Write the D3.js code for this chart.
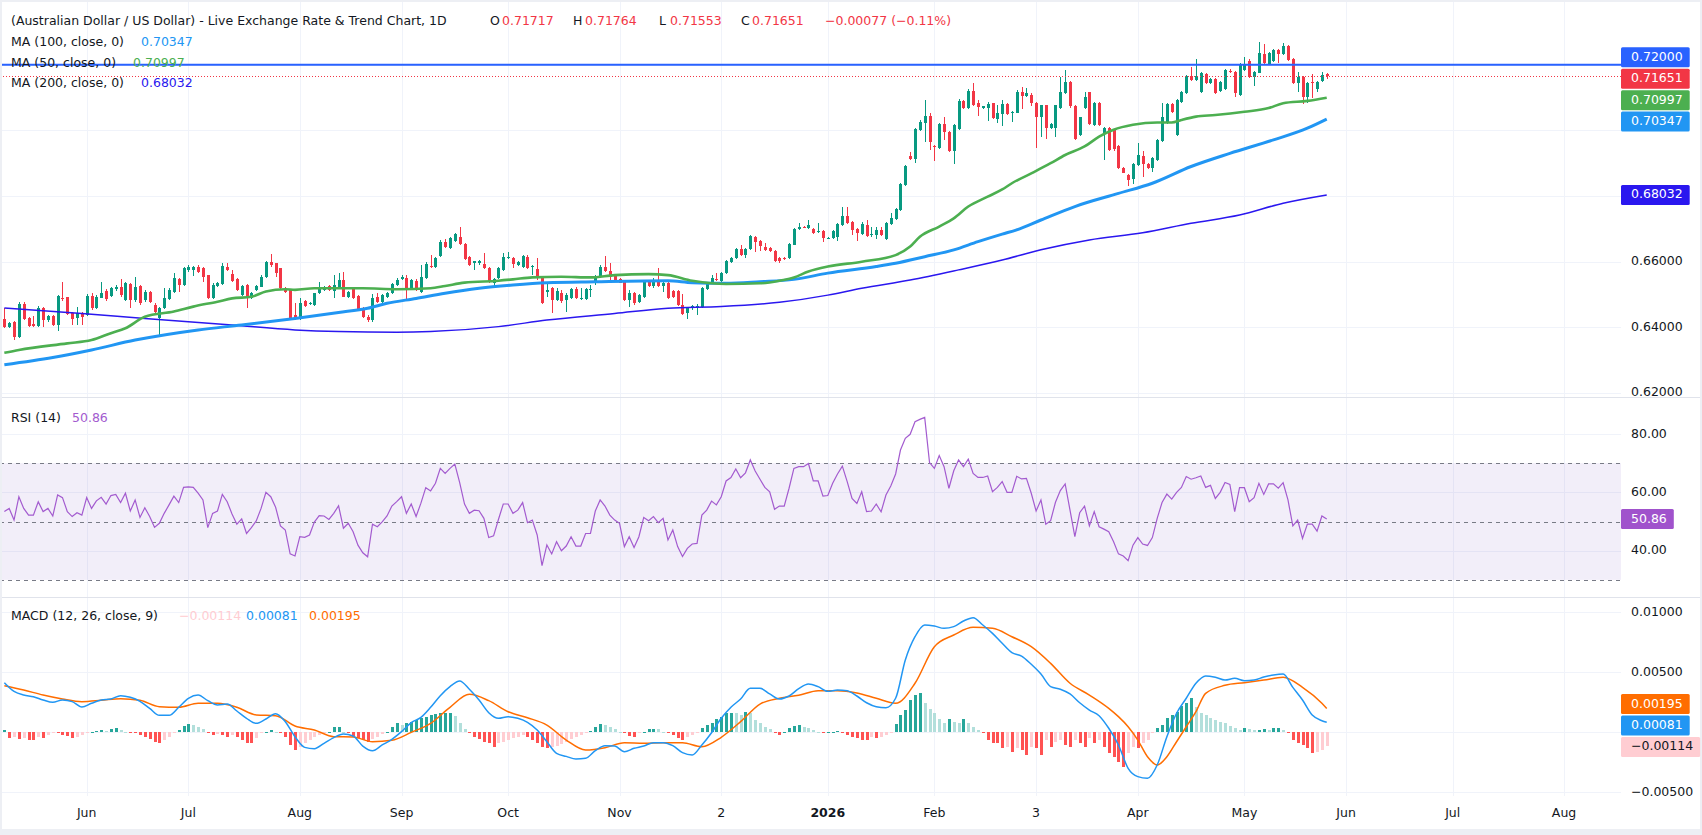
<!DOCTYPE html>
<html>
<head>
<meta charset="utf-8">
<title>AUD/USD</title>
<script src="https://cdn.jsdelivr.net/npm/d3@7/dist/d3.min.js"></script>
<style>
  html, body { margin: 0; padding: 0; background: #ffffff; overflow: hidden; }
  svg { display: block; font-family: "DejaVu Sans", Verdana, sans-serif; }
</style>
</head>
<body>
<svg id="chart" width="1702" height="835"></svg>
<script>
// ---------------- DATA ----------------
const startDate = "2025-05-08";
const axisEndDate = "2026-08-31";

const opens = [
0.6424,0.6400,0.6417,0.6371,0.6471,0.6427,0.6409,0.6404,0.6460,0.6422,
0.6434,0.6407,0.6490,0.6491,0.6444,0.6427,0.6444,0.6437,0.6496,0.6458,
0.6490,0.6511,0.6496,0.6516,0.6524,0.6483,0.6531,0.6483,0.6526,0.6483,
0.6509,0.6468,0.6427,0.6458,0.6485,0.6509,0.6546,0.6529,0.6575,0.6575,
0.6585,0.6580,0.6558,0.6490,0.6527,0.6532,0.6583,0.6563,0.6546,0.6499,
0.6529,0.6488,0.6514,0.6524,0.6552,0.6600,0.6595,0.6580,0.6519,0.6516,
0.6437,0.6430,0.6480,0.6471,0.6468,0.6504,0.6514,0.6526,0.6512,0.6519,
0.6544,0.6491,0.6522,0.6495,0.6458,0.6432,0.6422,0.6491,0.6478,0.6491,
0.6504,0.6529,0.6546,0.6549,0.6516,0.6541,0.6509,0.6549,0.6587,0.6585,
0.6617,0.6661,0.6641,0.6663,0.6676,0.6654,0.6615,0.6597,0.6597,0.6593,
0.6580,0.6534,0.6549,0.6575,0.6610,0.6610,0.6590,0.6585,0.6613,0.6585,
0.6577,0.6552,0.6509,0.6519,0.6483,0.6506,0.6483,0.6488,0.6516,0.6486,
0.6485,0.6514,0.6537,0.6554,0.6583,0.6572,0.6557,0.6546,0.6539,0.6483,
0.6504,0.6478,0.6491,0.6539,0.6527,0.6544,0.6527,0.6536,0.6512,0.6512,
0.6468,0.6442,0.6458,0.6463,0.6463,0.6516,0.6534,0.6547,0.6542,0.6565,
0.6600,0.6610,0.6638,0.6621,0.6638,0.6676,0.6663,0.6646,0.6641,0.6634,
0.6610,0.6610,0.6610,0.6652,0.6699,0.6706,0.6702,0.6700,0.6690,0.6694,
0.6670,0.6671,0.6676,0.6713,0.6739,0.6722,0.6699,0.6683,0.6712,0.6682,
0.6682,0.6697,0.6669,0.6714,0.6730,0.6758,0.6834,0.6922,0.6913,0.7001,
0.7024,0.7044,0.6953,0.6946,0.7020,0.6994,0.6938,0.7004,0.7091,0.7067,
0.7121,0.7085,0.7067,0.7067,0.7083,0.7035,0.7050,0.7081,0.7054,0.7054,
0.7118,0.7106,0.7108,0.7083,0.7040,0.7076,0.7007,0.7007,0.7068,0.7113,
0.7149,0.7075,0.6986,0.7068,0.7116,0.7017,0.7085,0.6993,0.7007,0.7000,
0.6953,0.6885,0.6864,0.6851,0.6895,0.6922,0.6898,0.6885,0.6910,0.6969,
0.7022,0.7081,0.6986,0.7088,0.7113,0.7166,0.7154,0.7116,0.7171,0.7144,
0.7156,0.7121,0.7126,0.7182,0.7177,0.7108,0.7184,0.7213,0.7162,0.7176,
0.7233,0.7203,0.7213,0.7245,0.7233,0.7256,0.7218,0.7144,0.7164,0.7103,
0.7147,0.7125,0.7152,0.71717];

const highs = [
0.6458,0.6417,0.6419,0.6478,0.6478,0.6432,0.6434,0.6465,0.6463,0.6437,
0.6436,0.6498,0.6539,0.6493,0.6447,0.6463,0.6447,0.6501,0.6503,0.6498,
0.6537,0.6516,0.6522,0.6528,0.6547,0.6537,0.6534,0.6552,0.6529,0.6514,
0.6511,0.6473,0.6463,0.6519,0.6519,0.6565,0.6549,0.6583,0.6589,0.6587,
0.6589,0.6583,0.6560,0.6534,0.6539,0.6595,0.6595,0.6575,0.6549,0.6529,
0.6531,0.6508,0.6529,0.6559,0.6603,0.6623,0.6597,0.6582,0.6522,0.6518,
0.6473,0.6488,0.6483,0.6478,0.6506,0.6539,0.6526,0.6529,0.6559,0.6565,
0.6570,0.6512,0.6524,0.6498,0.6461,0.6436,0.6501,0.6503,0.6501,0.6507,
0.6536,0.6549,0.6559,0.6559,0.6547,0.6546,0.6590,0.6600,0.6620,0.6615,
0.6666,0.6668,0.6676,0.6688,0.6707,0.6656,0.6618,0.6603,0.6605,0.6626,
0.6583,0.6549,0.6583,0.6626,0.6629,0.6615,0.6603,0.6620,0.6620,0.6590,
0.6610,0.6554,0.6534,0.6522,0.6519,0.6514,0.6504,0.6519,0.6524,0.6519,
0.6519,0.6529,0.6559,0.6590,0.6617,0.6597,0.6560,0.6549,0.6542,0.6514,
0.6507,0.6501,0.6542,0.6544,0.6549,0.6580,0.6539,0.6539,0.6514,0.6514,
0.6501,0.6463,0.6468,0.6470,0.6522,0.6537,0.6559,0.6565,0.6570,0.6605,
0.6615,0.6641,0.6651,0.6641,0.6681,0.6679,0.6666,0.6658,0.6644,0.6636,
0.6613,0.6615,0.6656,0.6702,0.6719,0.6709,0.6727,0.6702,0.6719,0.6697,
0.6674,0.6697,0.6719,0.6768,0.6768,0.6725,0.6702,0.6722,0.6727,0.6707,
0.6707,0.6705,0.6720,0.6747,0.6765,0.6841,0.6896,0.6935,0.7007,0.7032,
0.7093,0.7052,0.6956,0.7024,0.7042,0.6997,0.7020,0.7095,0.7093,0.7125,
0.7146,0.7093,0.7075,0.7088,0.7085,0.7078,0.7093,0.7085,0.7060,0.7123,
0.7132,0.7128,0.7113,0.7088,0.7078,0.7078,0.7024,0.7078,0.7164,0.7184,
0.7152,0.7078,0.7042,0.7118,0.7118,0.7088,0.7088,0.7010,0.7010,0.7003,
0.6956,0.6888,0.6867,0.6902,0.6961,0.6937,0.6900,0.6918,0.6974,0.7083,
0.7085,0.7085,0.7096,0.7121,0.7169,0.7193,0.7218,0.7177,0.7174,0.7159,
0.7159,0.7152,0.7187,0.7186,0.7180,0.7205,0.7223,0.7217,0.7182,0.7271,
0.7262,0.7238,0.7248,0.7248,0.7266,0.7259,0.7220,0.7177,0.7167,0.7149,
0.7172,0.7152,0.7179,0.71764];

const lows = [
0.6397,0.6397,0.6361,0.6366,0.6422,0.6402,0.6400,0.6402,0.6400,0.6417,
0.6404,0.6390,0.6481,0.6436,0.6407,0.6407,0.6407,0.6434,0.6453,0.6455,
0.6488,0.6481,0.6493,0.6512,0.6493,0.6481,0.6458,0.6478,0.6468,0.6478,
0.6473,0.6442,0.6376,0.6455,0.6483,0.6506,0.6509,0.6526,0.6570,0.6555,
0.6565,0.6539,0.6487,0.6487,0.6524,0.6529,0.6572,0.6539,0.6512,0.6495,
0.6458,0.6485,0.6512,0.6522,0.6549,0.6585,0.6552,0.6516,0.6506,0.6424,
0.6422,0.6422,0.6461,0.6467,0.6465,0.6501,0.6511,0.6511,0.6488,0.6516,
0.6491,0.6488,0.6485,0.6451,0.6429,0.6417,0.6417,0.6475,0.6473,0.6488,
0.6501,0.6526,0.6544,0.6485,0.6514,0.6512,0.6506,0.6546,0.6580,0.6582,
0.6615,0.6643,0.6638,0.6660,0.6651,0.6605,0.6587,0.6575,0.6590,0.6577,
0.6536,0.6519,0.6546,0.6572,0.6607,0.6580,0.6587,0.6582,0.6577,0.6560,
0.6544,0.6471,0.6493,0.6443,0.6480,0.6473,0.6448,0.6485,0.6485,0.6483,
0.6483,0.6493,0.6529,0.6551,0.6570,0.6534,0.6541,0.6534,0.6481,0.6463,
0.6468,0.6475,0.6488,0.6524,0.6519,0.6524,0.6508,0.6485,0.6488,0.6465,
0.6437,0.6424,0.6453,0.6437,0.6460,0.6514,0.6531,0.6541,0.6539,0.6562,
0.6597,0.6607,0.6618,0.6610,0.6636,0.6629,0.6631,0.6633,0.6628,0.6600,
0.6595,0.6605,0.6607,0.6650,0.6697,0.6702,0.6699,0.6683,0.6688,0.6661,
0.6668,0.6668,0.6664,0.6710,0.6715,0.6682,0.6664,0.6680,0.6676,0.6674,
0.6668,0.6679,0.6666,0.6711,0.6727,0.6755,0.6831,0.6910,0.6902,0.6999,
0.6966,0.6941,0.6908,0.6943,0.6971,0.6935,0.6898,0.7002,0.7064,0.7064,
0.7075,0.7044,0.7064,0.7030,0.7036,0.7024,0.7014,0.7047,0.7027,0.7052,
0.7066,0.7103,0.7073,0.6945,0.6981,0.6973,0.7003,0.6981,0.7065,0.7110,
0.7068,0.6971,0.6983,0.7065,0.7017,0.7014,0.7014,0.6910,0.6937,0.6937,
0.6882,0.6869,0.6831,0.6837,0.6892,0.6859,0.6882,0.6874,0.6907,0.6966,
0.7019,0.7054,0.6983,0.7085,0.7110,0.7151,0.7151,0.7113,0.7143,0.7141,
0.7110,0.7118,0.7123,0.7176,0.7101,0.7105,0.7181,0.7161,0.7134,0.7174,
0.7202,0.7200,0.7210,0.7207,0.7230,0.7212,0.7141,0.7116,0.7081,0.7085,
0.7098,0.7118,0.7149,0.71553];

const closes = [
0.6400,0.6414,0.6371,0.6471,0.6426,0.6405,0.6405,0.6460,0.6422,0.6434,
0.6407,0.6495,0.6485,0.6440,0.6424,0.6442,0.6430,0.6496,0.6458,0.6493,
0.6506,0.6485,0.6519,0.6524,0.6499,0.6534,0.6483,0.6524,0.6473,0.6509,
0.6478,0.6447,0.6458,0.6490,0.6514,0.6549,0.6529,0.6580,0.6585,0.6585,
0.6570,0.6552,0.6490,0.6529,0.6536,0.6588,0.6575,0.6542,0.6514,0.6527,
0.6488,0.6505,0.6526,0.6554,0.6600,0.6590,0.6565,0.6519,0.6509,0.6427,
0.6427,0.6473,0.6465,0.6474,0.6504,0.6524,0.6524,0.6514,0.6529,0.6544,
0.6493,0.6509,0.6488,0.6453,0.6432,0.6422,0.6488,0.6478,0.6499,0.6504,
0.6532,0.6544,0.6554,0.6516,0.6544,0.6514,0.6554,0.6593,0.6583,0.6610,
0.6661,0.6646,0.6671,0.6684,0.6654,0.6607,0.6590,0.6601,0.6601,0.6580,
0.6539,0.6546,0.6580,0.6613,0.6613,0.6593,0.6600,0.6617,0.6580,0.6588,
0.6552,0.6473,0.6514,0.6483,0.6512,0.6481,0.6499,0.6516,0.6488,0.6490,
0.6516,0.6517,0.6556,0.6585,0.6573,0.6552,0.6544,0.6536,0.6483,0.6504,
0.6473,0.6499,0.6539,0.6527,0.6539,0.6526,0.6536,0.6488,0.6491,0.6468,
0.6440,0.6458,0.6465,0.6466,0.6519,0.6534,0.6549,0.6544,0.6565,0.6603,
0.6610,0.6638,0.6621,0.6638,0.6678,0.6661,0.6648,0.6636,0.6631,0.6603,
0.6602,0.6608,0.6654,0.6700,0.6705,0.6704,0.6712,0.6687,0.6694,0.6671,
0.6672,0.6694,0.6716,0.6739,0.6719,0.6695,0.6687,0.6715,0.6679,0.6684,
0.6696,0.6682,0.6717,0.6732,0.6761,0.6838,0.6893,0.6914,0.7003,0.7027,
0.7044,0.6966,0.6948,0.7020,0.6994,0.6938,0.7017,0.7091,0.7067,0.7121,
0.7078,0.7070,0.7073,0.7081,0.7039,0.7054,0.7081,0.7050,0.7057,0.7118,
0.7106,0.7115,0.7083,0.7040,0.7076,0.7007,0.7020,0.7076,0.7116,0.7149,
0.7073,0.6974,0.7040,0.7101,0.7020,0.7085,0.7017,0.7007,0.6941,0.6942,
0.6885,0.6871,0.6849,0.6898,0.6925,0.6898,0.6885,0.6915,0.6971,0.7040,
0.7081,0.7057,0.7093,0.7116,0.7166,0.7154,0.7166,0.7174,0.7146,0.7156,
0.7113,0.7149,0.7184,0.7179,0.7113,0.7202,0.7203,0.7164,0.7179,0.7235,
0.7205,0.7235,0.7245,0.7233,0.7256,0.7215,0.7144,0.7164,0.7103,0.7146,
0.7144,0.7149,0.7169,0.71651];

// Moving averages: [bar index, value]
const ma50 = [[0,0.6322],[3,0.6331],[13,0.6351],[18,0.6361],[22,0.6382],[25,0.6397],[29,0.6432],[35,0.6448],[39,0.6463],[44,0.6478],[47,0.6488],[51,0.6493],[54,0.6509],[58,0.6516],[60,0.6514],[64,0.6519],[69,0.6519],[74,0.6519],[81,0.6516],[88,0.6519],[91,0.6526],[95,0.6536],[102,0.6542],[105,0.6546],[109,0.6552],[115,0.6554],[121,0.6552],[126,0.6559],[133,0.6562],[137,0.6559],[142,0.6542],[146,0.6534],[149,0.6532],[156,0.6534],[160,0.6542],[163,0.6552],[166,0.6570],[170,0.6585],[177,0.6600],[184,0.6620],[187,0.6646],[189,0.6676],[193,0.6707],[196,0.6732],[199,0.6768],[203,0.6798],[206,0.6820],[208,0.6839],[212,0.6869],[216,0.6900],[219,0.6925],[223,0.6951],[226,0.6981],[229,0.7002],[233,0.7017],[238,0.7024],[241,0.7024],[243,0.7032],[246,0.7042],[250,0.7047],[256,0.7057],[261,0.7068],[264,0.7083],[269,0.7090],[273,0.70997]];
const ma100 = [[0,0.6286],[10,0.6308],[18,0.6331],[27,0.6361],[40,0.6392],[49,0.6407],[60,0.6427],[69,0.6445],[75,0.6458],[79,0.6473],[85,0.6488],[91,0.6504],[98,0.6519],[105,0.6529],[112,0.6536],[122,0.6539],[137,0.6542],[142,0.6536],[149,0.6534],[156,0.6539],[163,0.6546],[170,0.6565],[180,0.6585],[184,0.6595],[190,0.6615],[196,0.6636],[201,0.6661],[206,0.6684],[209,0.6697],[214,0.6727],[221,0.6768],[230,0.6808],[237,0.6839],[245,0.6890],[253,0.6930],[262,0.6971],[269,0.7007],[273,0.70347]];
const ma200 = [[0,0.6459],[16,0.6442],[29,0.6427],[47,0.6407],[60,0.6392],[69,0.6387],[81,0.6385],[88,0.6387],[102,0.6402],[112,0.6422],[126,0.6442],[137,0.6458],[148,0.6463],[160,0.6476],[170,0.6498],[177,0.6519],[187,0.6544],[197,0.6575],[206,0.6605],[214,0.6636],[224,0.6666],[235,0.6688],[245,0.6717],[255,0.6742],[264,0.6778],[273,0.68032]];

// RSI (14), one value per bar
const rsi14 = [
53.4,54.5,50.5,58.5,54.5,52.2,52.2,56.8,53.4,54.5,
51.9,59.1,58.2,53.4,51.7,53.0,52.2,58.2,54.5,57.1,
58.3,56.0,58.9,59.3,56.5,59.7,53.6,57.4,51.4,54.7,
51.7,48.0,49.4,52.8,55.7,58.7,56.5,61.7,61.9,61.7,
59.7,57.4,47.9,52.8,53.6,59.3,56.8,52.6,49.1,50.9,
45.9,47.9,50.2,54.5,60.0,58.5,54.9,48.5,47.1,38.9,
38.2,44.8,44.6,45.4,49.8,52.0,51.9,50.7,52.8,55.4,
47.7,49.4,46.5,41.9,39.3,37.9,49.1,48.2,49.9,51.9,
55.3,56.8,58.5,52.8,56.0,51.7,56.3,61.6,60.5,63.1,
68.2,66.5,68.2,69.7,63.3,56.0,52.8,53.9,53.7,51.1,
44.5,45.1,50.7,56.0,56.0,52.8,53.9,56.5,49.6,50.5,
45.4,34.9,42.0,38.9,43.1,40.0,41.6,44.8,41.6,41.6,
45.9,45.9,53.6,57.4,55.3,52.2,50.5,49.4,41.4,44.8,
41.1,44.8,51.4,50.3,51.7,49.6,51.1,43.7,47.1,41.4,
38.0,40.8,42.3,42.5,52.2,53.9,57.0,55.7,58.5,63.9,
65.1,68.0,65.0,66.7,71.1,67.3,64.5,61.7,60.2,54.2,
55.3,55.3,61.4,68.2,68.8,68.8,69.9,63.9,63.9,58.7,
58.9,63.1,66.3,69.0,63.7,57.9,56.2,60.2,53.4,53.6,
56.0,53.3,59.1,62.2,66.3,74.5,78.5,79.9,84.2,85.0,
85.7,70.2,68.2,72.6,68.8,61.4,67.4,71.1,68.8,71.4,
66.5,65.1,65.1,65.6,60.2,61.7,63.7,60.0,60.0,65.5,
64.6,64.8,59.7,53.6,57.4,49.1,50.3,56.6,60.6,62.9,
53.9,44.8,53.0,55.3,48.5,53.4,48.2,47.4,46.5,43.1,
38.9,38.2,36.6,41.9,44.5,42.3,41.8,44.5,51.1,56.5,
59.4,57.7,60.0,61.7,65.4,64.5,65.0,65.6,61.7,62.4,
57.9,60.0,63.4,62.7,53.4,61.6,61.6,56.8,58.2,63.1,
59.3,62.9,62.9,61.4,63.3,57.4,48.5,50.5,44.2,49.1,
49.1,46.7,51.9,50.86];

// MACD (12, 26, 9): lines as [bar index, value], histogram one value per bar
const macdLine = [[0,0.00411],[2,0.00339],[4,0.00308],[6,0.00294],[8,0.00267],[10,0.00247],[12,0.00267],[14,0.00253],[16,0.00208],[18,0.00239],[20,0.00267],[22,0.00275],[24,0.00303],[26,0.00289],[28,0.00256],[30,0.00197],[32,0.00139],[34,0.00139],[36,0.00206],[38,0.00281],[40,0.00308],[42,0.00261],[44,0.00225],[46,0.00233],[48,0.00175],[50,0.00114],[52,0.00072],[54,0.00108],[56,0.00153],[58,0.00086],[60,-0.00039],[62,-0.00128],[64,-0.00139],[66,-0.00094],[68,-0.00047],[70,-0.00017],[72,-0.00033],[74,-0.00117],[76,-0.00156],[78,-0.00108],[80,-0.00061],[82,0.00003],[84,0.00078],[86,0.00122],[88,0.00206],[90,0.00303],[92,0.00378],[94,0.00425],[96,0.00356],[98,0.00267],[100,0.00161],[102,0.00114],[104,0.00128],[106,0.00114],[108,0.00081],[110,0.00017],[112,-0.00081],[114,-0.00178],[116,-0.00203],[118,-0.00225],[120,-0.00219],[122,-0.00156],[124,-0.00114],[126,-0.00117],[128,-0.00164],[130,-0.00136],[132,-0.00117],[134,-0.00089],[136,-0.00089],[138,-0.00114],[140,-0.00172],[142,-0.00192],[144,-0.00108],[146,-0.00006],[148,0.00114],[150,0.00206],[152,0.00275],[154,0.00364],[156,0.00364],[158,0.00317],[160,0.00275],[162,0.00300],[164,0.00361],[166,0.00400],[168,0.00378],[170,0.00339],[172,0.00350],[174,0.00344],[176,0.00300],[178,0.00244],[180,0.00211],[182,0.00203],[184,0.00281],[186,0.00600],[188,0.00794],[190,0.00892],[192,0.00883],[194,0.00864],[196,0.00878],[198,0.00925],[200,0.00953],[202,0.00892],[204,0.00822],[206,0.00739],[208,0.00661],[210,0.00633],[212,0.00564],[214,0.00483],[216,0.00378],[218,0.00356],[220,0.00317],[222,0.00244],[224,0.00183],[226,0.00136],[228,0.00031],[230,-0.00108],[232,-0.00303],[234,-0.00372],[236,-0.00386],[238,-0.00275],[240,-0.00039],[242,0.00156],[244,0.00281],[246,0.00406],[248,0.00467],[250,0.00456],[252,0.00433],[254,0.00447],[256,0.00428],[258,0.00433],[260,0.00458],[262,0.00475],[264,0.00483],[266,0.00372],[268,0.00267],[270,0.00142],[272,0.00094],[273,0.00081]];
const signalLine = [[0,0.00386],[4,0.00350],[8,0.00308],[12,0.00275],[16,0.00253],[20,0.00264],[24,0.00278],[28,0.00264],[32,0.00211],[36,0.00206],[40,0.00239],[44,0.00239],[48,0.00206],[52,0.00142],[56,0.00136],[60,0.00050],[64,0.00017],[68,-0.00039],[72,-0.00042],[76,-0.00081],[80,-0.00069],[84,-0.00003],[88,0.00072],[92,0.00206],[96,0.00314],[100,0.00261],[104,0.00169],[108,0.00119],[112,0.00058],[116,-0.00067],[120,-0.00150],[124,-0.00131],[128,-0.00089],[132,-0.00094],[136,-0.00089],[140,-0.00089],[144,-0.00122],[148,-0.00044],[152,0.00086],[156,0.00233],[160,0.00281],[164,0.00306],[168,0.00344],[172,0.00344],[176,0.00325],[180,0.00281],[184,0.00239],[188,0.00406],[192,0.00711],[196,0.00808],[200,0.00872],[204,0.00864],[208,0.00794],[212,0.00711],[216,0.00572],[220,0.00406],[224,0.00308],[228,0.00197],[230,0.00128],[232,0.00044],[234,-0.00067],[236,-0.00206],[238,-0.00275],[240,-0.00206],[242,-0.00081],[244,0.00044],[246,0.00169],[248,0.00322],[252,0.00389],[256,0.00411],[260,0.00433],[264,0.00456],[268,0.00372],[272,0.00239],[273,0.00195]];
const macdHist = [
0.00017,-0.00053,-0.00039,-0.00061,-0.00053,-0.00067,-0.00067,-0.00044,-0.00053,-0.00025,
-0.00011,-0.00011,-0.00025,-0.00033,-0.00047,-0.00039,-0.00025,-0.00011,0.00003,0.00011,
0.00017,0.00008,0.00022,0.00031,0.00017,0.00003,-0.00006,-0.00011,-0.00025,-0.00039,
-0.00061,-0.00081,-0.00094,-0.00067,-0.00039,-0.00011,0.00017,0.00050,0.00064,0.00058,
0.00044,0.00022,-0.00006,-0.00025,-0.00017,-0.00025,-0.00039,-0.00025,-0.00039,-0.00067,
-0.00094,-0.00094,-0.00053,-0.00011,0.00003,0.00017,0.00003,-0.00011,-0.00039,-0.00108,
-0.00150,-0.00122,-0.00094,-0.00067,-0.00039,-0.00025,-0.00006,0.00003,0.00039,0.00044,
0.00003,-0.00011,-0.00039,-0.00053,-0.00067,-0.00081,-0.00061,-0.00039,-0.00017,0.00003,
0.00044,0.00072,0.00058,0.00072,0.00086,0.00100,0.00114,0.00128,0.00142,0.00150,
0.00156,0.00156,0.00156,0.00133,0.00072,0.00022,-0.00006,-0.00039,-0.00061,-0.00081,
-0.00094,-0.00122,-0.00094,-0.00081,-0.00067,-0.00053,-0.00039,-0.00025,-0.00039,-0.00067,
-0.00094,-0.00122,-0.00136,-0.00128,-0.00117,-0.00100,-0.00081,-0.00061,-0.00044,-0.00025,
-0.00011,0.00011,0.00044,0.00067,0.00058,0.00039,0.00022,0.00003,-0.00011,-0.00033,
-0.00039,-0.00011,0.00003,0.00022,0.00025,0.00022,0.00003,-0.00011,-0.00025,-0.00053,
-0.00067,-0.00039,-0.00025,-0.00011,0.00031,0.00058,0.00078,0.00106,0.00128,0.00156,
0.00161,0.00156,0.00142,0.00169,0.00156,0.00100,0.00072,0.00044,0.00022,-0.00011,
-0.00025,0.00003,0.00031,0.00050,0.00058,0.00044,0.00031,0.00017,0.00003,-0.00011,
0.00000,0.00003,0.00011,-0.00006,-0.00025,-0.00039,-0.00053,-0.00067,-0.00067,-0.00044,
-0.00053,-0.00039,-0.00025,-0.00006,0.00067,0.00142,0.00183,0.00267,0.00308,0.00328,
0.00239,0.00189,0.00156,0.00106,0.00072,0.00106,0.00086,0.00078,0.00106,0.00072,
0.00044,0.00017,-0.00011,-0.00067,-0.00094,-0.00094,-0.00136,-0.00122,-0.00164,-0.00136,
-0.00150,-0.00192,-0.00122,-0.00136,-0.00192,-0.00067,-0.00122,-0.00081,-0.00067,-0.00108,
-0.00122,-0.00067,-0.00094,-0.00122,-0.00053,-0.00094,-0.00067,-0.00122,-0.00178,-0.00206,
-0.00247,-0.00289,-0.00178,-0.00122,-0.00136,-0.00094,-0.00067,-0.00011,0.00031,0.00058,
0.00114,0.00142,0.00169,0.00217,0.00239,0.00281,0.00211,0.00156,0.00142,0.00114,
0.00100,0.00086,0.00072,0.00050,0.00031,0.00017,0.00031,0.00022,0.00017,0.00017,
0.00025,0.00017,0.00031,0.00031,0.00017,-0.00011,-0.00067,-0.00094,-0.00108,-0.00136,
-0.00172,-0.00164,-0.00150,-0.00114];

const hLineLevel = 0.72;
const priceTicks = [0.62, 0.64, 0.66, 0.68, 0.70, 0.72];
const rsiTicks = [40, 60, 80];
const rsiBands = [70, 50, 30];
const macdTicks = [-0.005, 0, 0.005, 0.01];
const tickDates = ["2025-06-02","2025-07-01","2025-08-01","2025-09-01","2025-10-01","2025-11-03","2025-12-02","2026-01-01","2026-02-02","2026-03-03","2026-04-01","2026-05-01","2026-06-01","2026-07-01","2026-08-03"];
const tickLabels = ["Jun","Jul","Aug","Sep","Oct","Nov","2","2026","Feb","3","Apr","May","Jun","Jul","Aug"];
const titleText = "(Australian Dollar / US Dollar) - Live Exchange Rate & Trend Chart, 1D";
const ohlcLabels = ["O","H","L","C"];
const ohlcValues = ["0.71717","0.71764","0.71553","0.71651"];
const changeText = "\u22120.00077 (\u22120.11%)";

// ---------------- LAYOUT ----------------
const W = 1702, H = 835, plotR = 1621, axisR = 1700;
const pMain = [2, 397], pRsi = [398, 597], pMacd = [598, 796], tAxis = [796, 829];
const C = {
  up: "#089981", down: "#F23645", grid: "#F0F3FA", sep: "#E0E3EB", text: "#131722",
  ma50: "#4CAF50", ma100: "#2196F3", ma200: "#2A17EF", hline: "#2962FF",
  rsi: "#A35BCF", macd: "#2196F3", signal: "#FF6D00"
};
const FS = 12.5;

function tradingDays(s, e) {
  const out = [];
  let d = new Date(s + "T00:00:00Z");
  const end = new Date(e + "T00:00:00Z");
  while (d <= end) {
    const wd = d.getUTCDay();
    if (wd !== 0 && wd !== 6) out.push(d.toISOString().slice(0, 10));
    d = new Date(d.getTime() + 86400000);
  }
  return out;
}
const days = tradingDays(startDate, axisEndDate);
const idxOf = ds => days.indexOf(ds);

const x = d3.scaleLinear().domain([-0.898, 333.75]).range([0, plotR]);
const yP = d3.scaleLinear().domain([0.62, 0.72]).range([392.9, 64.8]);
const yR = d3.scaleLinear().domain([40, 80]).range([550.7, 434]);
const yM = d3.scaleLinear().domain([-0.005, 0.01]).range([792, 612]);

const svg = d3.select("#chart");
svg.append("rect").attr("width", W).attr("height", H).attr("fill", "#EDEFF4");
svg.append("rect").attr("x", 2).attr("y", 2).attr("width", axisR - 2).attr("height", tAxis[1] - 2).attr("fill", "#ffffff");

const defs = svg.append("defs");
function clip(id, x0, y0, x1, y1) {
  defs.append("clipPath").attr("id", id).append("rect")
    .attr("x", x0).attr("y", y0).attr("width", x1 - x0).attr("height", y1 - y0);
}
clip("cMain", 2, pMain[0], plotR, pMain[1]);
clip("cRsi", 2, pRsi[0], plotR, pRsi[1]);
clip("cMacd", 2, pMacd[0], plotR, pMacd[1]);
clip("aMain", plotR, pMain[0], axisR, pMain[1]);
clip("aRsi", plotR, pRsi[0], axisR, pRsi[1]);
clip("aMacd", plotR, pMacd[0], axisR, pMacd[1]);

const tickIdx = tickDates.map(idxOf);

// vertical grid
[pMain, pRsi, pMacd].forEach(p => {
  svg.append("g").selectAll("line").data(tickIdx).join("line")
    .attr("x1", d => Math.round(x(d)) + 0.5).attr("x2", d => Math.round(x(d)) + 0.5)
    .attr("y1", p[0]).attr("y2", p[1]).attr("stroke", C.grid).attr("stroke-width", 1);
});
function hGrid(ticks, scale, clipId) {
  svg.append("g").attr("clip-path", `url(#${clipId})`).selectAll("line").data(ticks).join("line")
    .attr("x1", 0).attr("x2", plotR)
    .attr("y1", d => Math.round(scale(d)) + 0.5).attr("y2", d => Math.round(scale(d)) + 0.5)
    .attr("stroke", C.grid).attr("stroke-width", 1);
}
hGrid(priceTicks, yP, "cMain");
hGrid(rsiTicks, yR, "cRsi");
hGrid(macdTicks, yM, "cMacd");

[pMain[1] + 0.5, pRsi[1] + 0.5].forEach(yy => {
  svg.append("line").attr("x1", 2).attr("x2", axisR).attr("y1", yy).attr("y2", yy)
    .attr("stroke", C.sep).attr("stroke-width", 1);
});

// ---------------- MAIN PANE ----------------
const gMain = svg.append("g").attr("clip-path", "url(#cMain)");
const candles = closes.map((c, i) => ({ i, o: opens[i], h: highs[i], l: lows[i], c }));
const gC = gMain.append("g").attr("shape-rendering", "crispEdges");
gC.selectAll("rect.w").data(candles).join("rect").attr("class", "w")
  .attr("x", d => Math.round(x(d.i)))
  .attr("width", 1)
  .attr("y", d => yP(d.h))
  .attr("height", d => Math.max(1, yP(d.l) - yP(d.h)))
  .attr("fill", d => d.c >= d.o ? C.up : C.down);
gC.selectAll("rect.b").data(candles).join("rect").attr("class", "b")
  .attr("x", d => Math.round(x(d.i)) - 1)
  .attr("width", 3)
  .attr("y", d => yP(Math.max(d.o, d.c)))
  .attr("height", d => Math.max(1, Math.abs(yP(d.o) - yP(d.c))))
  .attr("fill", d => d.c >= d.o ? C.up : C.down);

const maLine = d3.line().x(d => x(d[0])).y(d => yP(d[1])).curve(d3.curveMonotoneX);
gMain.append("path").attr("d", maLine(ma200)).attr("fill", "none").attr("stroke", C.ma200).attr("stroke-width", 1.5);
gMain.append("path").attr("d", maLine(ma100)).attr("fill", "none").attr("stroke", C.ma100).attr("stroke-width", 3).attr("stroke-linejoin", "round");
gMain.append("path").attr("d", maLine(ma50)).attr("fill", "none").attr("stroke", C.ma50).attr("stroke-width", 2.6).attr("stroke-linejoin", "round");

const lastClose = closes[closes.length - 1];
gMain.append("line").attr("x1", 0).attr("x2", plotR)
  .attr("y1", Math.round(yP(lastClose)) + 0.5).attr("y2", Math.round(yP(lastClose)) + 0.5)
  .attr("stroke", C.down).attr("stroke-width", 1).attr("stroke-dasharray", "1,2");
gMain.append("line").attr("x1", 0).attr("x2", plotR)
  .attr("y1", yP(hLineLevel)).attr("y2", yP(hLineLevel))
  .attr("stroke", C.hline).attr("stroke-width", 2);

// ---------------- RSI PANE ----------------
const gR = svg.append("g").attr("clip-path", "url(#cRsi)");
gR.append("rect").attr("x", 0).attr("width", plotR)
  .attr("y", yR(rsiBands[0])).attr("height", yR(rsiBands[2]) - yR(rsiBands[0]))
  .attr("fill", "rgba(126,87,194,0.1)");
gR.selectAll("line.band").data(rsiBands).join("line").attr("class", "band")
  .attr("x1", 0).attr("x2", plotR)
  .attr("y1", d => Math.round(yR(d)) + 0.5).attr("y2", d => Math.round(yR(d)) + 0.5)
  .attr("stroke", "#787B86").attr("stroke-width", 1).attr("stroke-dasharray", "4,4");
gR.append("path")
  .attr("d", d3.line().x((d, i) => x(i)).y(d => yR(d))(rsi14))
  .attr("fill", "none").attr("stroke", C.rsi).attr("stroke-width", 1.2);

// ---------------- MACD PANE ----------------
const gM = svg.append("g").attr("clip-path", "url(#cMacd)");
function histColor(i) {
  const v = macdHist[i], p = i > 0 ? macdHist[i - 1] : v;
  if (v >= 0) return v >= p ? "#26A69A" : "#B2DFDB";
  return v > p ? "#FFCDD2" : "#FF5252";
}
gM.append("g").attr("shape-rendering", "crispEdges").selectAll("rect").data(macdHist).join("rect")
  .attr("x", (d, i) => Math.round(x(i)) - 1).attr("width", 3)
  .attr("y", d => Math.min(yM(0), yM(d)))
  .attr("height", d => Math.max(1, Math.abs(yM(d) - yM(0))))
  .attr("fill", (d, i) => histColor(i));
const mLine = d3.line().x(d => x(d[0])).y(d => yM(d[1])).curve(d3.curveMonotoneX);
gM.append("path").attr("d", mLine(signalLine)).attr("fill", "none").attr("stroke", C.signal).attr("stroke-width", 1.5);
gM.append("path").attr("d", mLine(macdLine)).attr("fill", "none").attr("stroke", C.macd).attr("stroke-width", 1.5);

// ---------------- LEGENDS ----------------
function txt(xp, yp, s, color) {
  return svg.append("text").attr("x", xp).attr("y", yp).attr("dominant-baseline", "middle")
    .attr("font-size", FS).attr("fill", color || C.text).text(s);
}
txt(11, 21, titleText);
const ohlcX = [[490, 502], [573, 585], [659, 670], [741, 752]];
ohlcLabels.forEach((l, k) => {
  txt(ohlcX[k][0], 21, l);
  txt(ohlcX[k][1], 21, ohlcValues[k], C.down);
});
txt(825, 21, changeText, C.down);

txt(11, 42.5, "MA (100, close, 0)");
txt(141, 42.5, ma100[ma100.length - 1][1].toFixed(5), C.ma100);
txt(11, 63, "MA (50, close, 0)");
txt(133, 63, ma50[ma50.length - 1][1].toFixed(5), C.ma50);
txt(11, 83.5, "MA (200, close, 0)");
txt(141, 83.5, ma200[ma200.length - 1][1].toFixed(5), C.ma200);

txt(11, 418.5, "RSI (14)");
txt(72, 418.5, rsi14[rsi14.length - 1].toFixed(2), C.rsi);

const lastHist = macdHist[macdHist.length - 1];
const lastMacd = macdLine[macdLine.length - 1][1];
const lastSig = signalLine[signalLine.length - 1][1];
txt(11, 616.5, "MACD (12, 26, close, 9)");
txt(179, 616.5, lastHist.toFixed(5).replace("-", "\u2212"), "#FFCDD2");
txt(246, 616.5, lastMacd.toFixed(5), C.macd);
txt(309, 616.5, lastSig.toFixed(5), C.signal);

// ---------------- RIGHT AXES + BADGES ----------------
function layoutBadges(items, h) {
  items.sort((a, b) => a.y - b.y);
  let cl = items.map(it => ({ m: [it], c: it.y }));
  let changed = true;
  while (changed) {
    changed = false;
    for (let k = 0; k < cl.length - 1; k++) {
      const a = cl[k], b = cl[k + 1];
      if (a.c + a.m.length * h / 2 > b.c - b.m.length * h / 2) {
        const m = a.m.concat(b.m);
        cl.splice(k, 2, { m, c: d3.mean(m, d => d.y) });
        changed = true; break;
      }
    }
  }
  cl.forEach(g => g.m.forEach((it, j) => it.cy = g.c + (j - (g.m.length - 1) / 2) * h));
  return items;
}
const mainBadges = layoutBadges([
  { y: yP(hLineLevel), label: hLineLevel.toFixed(5), bg: C.hline },
  { y: yP(lastClose), label: lastClose.toFixed(5), bg: C.down },
  { y: yP(ma50[ma50.length - 1][1]), label: ma50[ma50.length - 1][1].toFixed(5), bg: C.ma50 },
  { y: yP(ma100[ma100.length - 1][1]), label: ma100[ma100.length - 1][1].toFixed(5), bg: C.ma100 },
  { y: yP(ma200[ma200.length - 1][1]), label: ma200[ma200.length - 1][1].toFixed(5), bg: C.ma200 }
], 21.4);
const rsiBadges = layoutBadges([{ y: yR(rsi14[rsi14.length - 1]), label: rsi14[rsi14.length - 1].toFixed(2), bg: "#A052CC" }], 21.4);
const macdBadges = layoutBadges([
  { y: yM(lastSig), label: lastSig.toFixed(5), bg: C.signal },
  { y: yM(lastMacd), label: lastMacd.toFixed(5), bg: C.macd },
  { y: yM(lastHist), label: lastHist.toFixed(5).replace("-", "\u2212"), bg: "#FFCDD2", fg: C.text }
], 21.4);

function axisLabels(ticks, scale, clipId, fmt, badges) {
  const visible = ticks.filter(t => !badges.some(b => Math.abs(b.cy - scale(t)) < 15));
  svg.append("g").attr("clip-path", `url(#${clipId})`).selectAll("text").data(visible).join("text")
    .attr("x", 1631).attr("y", d => scale(d)).attr("dominant-baseline", "middle")
    .attr("font-size", FS).attr("fill", C.text).text(fmt);
}
axisLabels(priceTicks, yP, "aMain", d => d.toFixed(5), mainBadges);
axisLabels(rsiTicks, yR, "aRsi", d => d.toFixed(2), rsiBadges);
axisLabels(macdTicks, yM, "aMacd", d => d.toFixed(5).replace("-", "\u2212"), macdBadges);

function drawBadges(items) {
  items.forEach(it => {
    const g = svg.append("g");
    const t = g.append("text").attr("x", 1631).attr("y", it.cy).attr("dominant-baseline", "middle")
      .attr("font-size", FS).attr("fill", it.fg || "#ffffff").text(it.label);
    const w = t.node().getComputedTextLength();
    g.insert("rect", "text").attr("x", plotR).attr("y", it.cy - 10).attr("width", w + 17).attr("height", 20)
      .attr("rx", 1.5).attr("fill", it.bg);
  });
}
drawBadges(mainBadges);
drawBadges(rsiBadges);
drawBadges(macdBadges);

// ---------------- TIME AXIS ----------------
svg.append("g").selectAll("text").data(tickIdx).join("text")
  .attr("x", d => x(d)).attr("y", 813).attr("text-anchor", "middle").attr("dominant-baseline", "middle")
  .attr("font-size", FS).attr("fill", C.text)
  .attr("font-weight", (d, k) => tickLabels[k] === "2026" ? "bold" : "normal")
  .text((d, k) => tickLabels[k]);
</script>
</body>
</html>
